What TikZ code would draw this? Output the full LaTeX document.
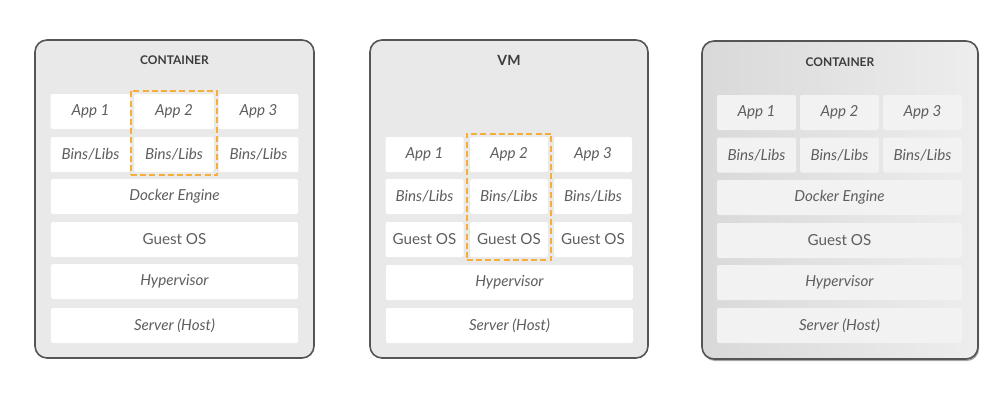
\documentclass[tikz,border=0pt]{standalone}
\usepackage{fontspec}
\setmainfont{Lato}
\usetikzlibrary{fit}
\definecolor{panelbg}{HTML}{E9E9E9}
\definecolor{panelline}{HTML}{555555}
\definecolor{labeltext}{HTML}{5E5E5E}
\definecolor{titletext}{HTML}{3C3C3C}
\definecolor{pickorange}{HTML}{F6AE3A}

\begin{document}
\begin{tikzpicture}[x=0.25mm,y=-0.25mm,
  panel/.style={draw=panelline,line width=0.4mm,fill=panelbg,rounded corners=3mm},
  title/.style={text=titletext,font=\bfseries\fontsize{8.5}{10}\selectfont},
  cell/.style={rectangle,fill=white,rounded corners=0.5mm,inner sep=0pt,minimum height=8.75mm,
    text=labeltext,font=\itshape\fontsize{10.8}{13}\selectfont},
  upcell/.style={cell,font=\fontsize{10.8}{13}\selectfont},
  pick/.style={draw=pickorange,line width=0.55mm,dash pattern=on 1.5mm off 0.8mm,inner sep=0.75mm}]
	\useasboundingbox (0,0) rectangle (1000,400);
	
	% container
	\draw[panel] (35,40) rectangle (314,358);
	\node[title] (ct-title) at (174.5,60) {CONTAINER};
	\foreach \n/\cx in {1/90.5,2/174,3/258.5}{
		\node[cell,minimum width=19.9mm] (ct-app-\n) at (\cx,111.5) {App \n};
		\node[cell,minimum width=19.9mm] (ct-bins-\n) at (\cx,154.5) {Bins/Libs};
	}
	\node[cell,minimum width=61.75mm] (ct-docker) at (174.5,196.5) {Docker Engine};
	\node[upcell,minimum width=61.75mm] (ct-guest) at (174.5,239.5) {Guest OS};
	\node[cell,minimum width=61.75mm] (ct-hyper) at (174.5,281.5) {Hypervisor};
	\node[cell,minimum width=61.75mm] (ct-server) at (174.5,325.5) {Server (Host)};
	\node[pick,fit=(ct-app-2)(ct-bins-2)] (ct-pick) {};
	
	% vm
	\draw[panel] (370,40) rectangle (648,358);
	\node[title,font=\bfseries\fontsize{10}{12}\selectfont] (vm-title) at (509,60) {VM};
	\foreach \n/\cx in {1/424.5,2/509,3/593}{
		\node[cell,minimum width=19.5mm] (vm-app-\n) at (\cx,154.5) {App \n};
		\node[cell,minimum width=19.5mm] (vm-bins-\n) at (\cx,196.5) {Bins/Libs};
		\node[upcell,minimum width=19.5mm] (vm-guest-\n) at (\cx,239.5) {Guest OS};
	}
	\node[cell,minimum width=61.75mm] (vm-hyper) at (509.5,282.5) {Hypervisor};
	\node[cell,minimum width=61.75mm] (vm-server) at (509.5,325.5) {Server (Host)};
	\node[pick,fit=(vm-app-2)(vm-guest-2)] (vm-pick) {};
	
	% container, shaded
	\fill[black!35,rounded corners=3mm] (703,42) rectangle (979,361);
	\draw[panel,left color=black!15,right color=black!7] (702,41) rectangle (978,359);
	\node[title] (sh-title) at (840,62) {CONTAINER};
	\foreach \n/\cx in {1/756.5,2/839.5,3/922.5}{
		\node[cell,fill=black!5,minimum width=19.75mm] (sh-app-\n) at (\cx,112.5) {App \n};
		\node[cell,fill=black!5,minimum width=19.75mm] (sh-bins-\n) at (\cx,155) {Bins/Libs};
	}
	\node[cell,fill=black!5,minimum width=61.25mm] (sh-docker) at (839.5,197.5) {Docker Engine};
	\node[upcell,fill=black!5,minimum width=61.25mm] (sh-guest) at (839.5,240.5) {Guest OS};
	\node[cell,fill=black!5,minimum width=61.25mm] (sh-hyper) at (839.5,282.5) {Hypervisor};
	\node[cell,fill=black!5,minimum width=61.25mm] (sh-server) at (839.5,325.5) {Server (Host)};
\end{tikzpicture}
\end{document}
